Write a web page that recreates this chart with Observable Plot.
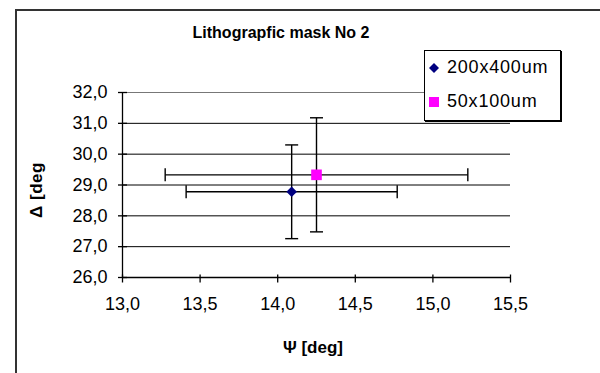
<!DOCTYPE html>
<html>
<head>
<meta charset="utf-8">
<script src="https://cdn.jsdelivr.net/npm/d3@7"></script>
<script src="https://cdn.jsdelivr.net/npm/@observablehq/plot@0.6"></script>
<style>
  html, body { margin: 0; padding: 0; background: #fff; }
  #wrap { position: relative; width: 600px; height: 373px; overflow: hidden; font-family: "Liberation Sans", Arial, sans-serif; }
  #frame { position: absolute; left: 15px; top: 9px; width: 700px; height: 500px; border: 2px solid #333; box-sizing: border-box; }
  #chart { position: absolute; left: 0; top: 0; }
  .lbl { position: absolute; font-weight: bold; color: #000; white-space: nowrap; }
  #title { left: 281px; top: 33px; transform: translate(-50%, -50%); font-size: 16px; }
  #xlabel { left: 313px; top: 348px; transform: translate(-50%, -50%); font-size: 17px; }
  #ylabel { left: 37px; top: 190px; transform: translate(-50%, -50%) rotate(-90deg); font-size: 17px; letter-spacing: 0.5px; }
  #legend { position: absolute; left: 424px; top: 50px; width: 137px; height: 71px; border: 1px solid #000; box-shadow: 1px 1px 0 #000; background: #fff; box-sizing: border-box; }
  .item { position: absolute; left: 0; font-size: 18px; letter-spacing: 0.8px; white-space: nowrap; }
  .item svg { position: absolute; left: 3px; top: 0; }
  .item span { position: absolute; left: 22px; top: -11px; }
</style>
</head>
<body>
<div id="wrap">
  <div id="frame"></div>
  <div id="chart"></div>
  <div id="title" class="lbl">Lithograpfic mask No 2</div>
  <div id="xlabel" class="lbl">Ψ [deg]</div>
  <div id="ylabel" class="lbl">Δ [deg</div>
  <div id="legend"></div>
</div>
<script>
// ---- data ----
const series = ["200x400um", "50x100um"];
const psi = [14.09, 14.25];
const delta = [28.78, 29.33];
const psiErr = [0.68, 0.975];
const deltaErr = [1.52, 1.85];
const colors = ["#000080", "#FF00FF"];
const sizes = [4.8, 6];
const xTicks = [13.0, 13.5, 14.0, 14.5, 15.0, 15.5];
const yTicks = [26, 27, 28, 29, 30, 31, 32];

const rows = series.map((s, i) => ({s, x: psi[i], y: delta[i], ex: psiErr[i], ey: deltaErr[i], c: colors[i]}));
const fmt = d => d.toFixed(1).replace(".", ",");

const vline = {draw(ctx, size) { const r = Math.sqrt(size / Math.PI); ctx.moveTo(0, -r); ctx.lineTo(0, r); }};
const hline = {draw(ctx, size) { const r = Math.sqrt(size / Math.PI); ctx.moveTo(-r, 0); ctx.lineTo(r, 0); }};

const x0 = xTicks[0], y0 = yTicks[0];

const plot = Plot.plot({
  width: 600,
  height: 373,
  marginLeft: 122,
  marginRight: 90,
  marginTop: 92,
  marginBottom: 96,
  style: {fontFamily: "Liberation Sans, Arial, sans-serif", fontSize: "18px", background: "transparent", overflow: "visible"},
  x: {domain: [xTicks[0], xTicks[xTicks.length - 1]]},
  y: {domain: [yTicks[0], yTicks[yTicks.length - 1]]},
  marks: [
    Plot.ruleY(yTicks.slice(1, -1), {stroke: "#000", strokeWidth: 1}),
    Plot.ruleY([yTicks[yTicks.length - 1]], {stroke: "#777", strokeWidth: 1}),
    Plot.ruleY([y0], {stroke: "#000", strokeWidth: 1.3}),
    Plot.ruleX([x0], {stroke: "#000", strokeWidth: 1.3}),
    Plot.dot(xTicks, {x: d => d, y: () => y0, symbol: vline, r: 4, fill: "none", stroke: "#000", strokeWidth: 1.3, dy: 1}),
    Plot.dot(yTicks, {x: () => x0, y: d => d, symbol: hline, r: 4.5, fill: "none", stroke: "#000", strokeWidth: 1.3}),
    Plot.axisX({ticks: xTicks, tickSize: 0, tickPadding: 20, tickFormat: fmt, label: null, style: {letterSpacing: "1px"}}),
    Plot.axisY({ticks: yTicks, tickSize: 0, tickPadding: 15, tickFormat: fmt, label: null, style: {letterSpacing: "1px"}}),
    // error bars
    Plot.link(rows, {x1: d => d.x - d.ex, x2: d => d.x + d.ex, y1: "y", y2: "y", stroke: "#000", strokeWidth: 1.4}),
    Plot.link(rows, {x1: "x", x2: "x", y1: d => d.y - d.ey, y2: d => d.y + d.ey, stroke: "#000", strokeWidth: 1.4}),
    Plot.dot(rows, {x: d => d.x - d.ex, y: "y", symbol: vline, r: 6.5, fill: "none", stroke: "#000", strokeWidth: 1.4}),
    Plot.dot(rows, {x: d => d.x + d.ex, y: "y", symbol: vline, r: 6.5, fill: "none", stroke: "#000", strokeWidth: 1.4}),
    Plot.dot(rows, {x: "x", y: d => d.y - d.ey, symbol: hline, r: 6.5, fill: "none", stroke: "#000", strokeWidth: 1.4}),
    Plot.dot(rows, {x: "x", y: d => d.y + d.ey, symbol: hline, r: 6.5, fill: "none", stroke: "#000", strokeWidth: 1.4}),
    // markers
    Plot.dot(rows.filter((d, i) => i === 0), {x: "x", y: "y", symbol: "diamond2", r: sizes[0], fill: colors[0], stroke: "none"}),
    Plot.dot(rows.filter((d, i) => i === 1), {x: "x", y: "y", symbol: "square", r: sizes[1], fill: colors[1], stroke: "none"})
  ]
});
document.getElementById("chart").appendChild(plot);

// legend
const legend = document.getElementById("legend");
const legendTops = [17, 51];
rows.forEach((d, i) => {
  const item = document.createElement("div");
  item.className = "item";
  item.style.top = legendTops[i] + "px";
  const sym = i === 0
    ? `<svg width="12" height="12" style="top:-6px"><path d="M6,1L11,6L6,11L1,6Z" fill="${d.c}"/></svg>`
    : `<svg width="12" height="12" style="top:-6px"><rect x="1" y="1" width="10" height="10" fill="${d.c}"/></svg>`;
  item.innerHTML = sym + `<span>${d.s}</span>`;
  legend.appendChild(item);
});
</script>
</body>
</html>
